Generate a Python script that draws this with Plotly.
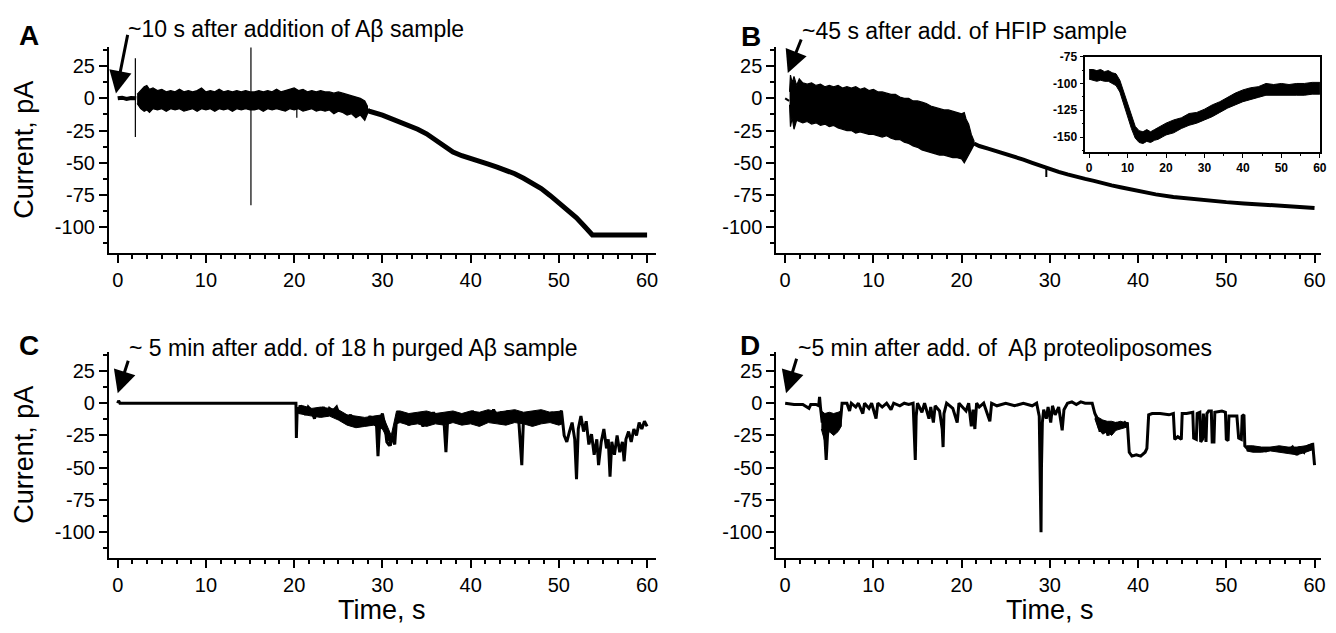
import plotly.graph_objects as go

# ---------------- data ----------------
# Panel A
a_flat_t = [0.0, 0.5, 1.0, 1.5, 2.1]
a_flat_i = [0.0, 0.5, -0.5, 0.3, 0.0]
a_band_t = [2.2, 2.6, 3.0, 3.3, 3.6,
            4.0, 4.5, 5.0, 5.5, 6.0, 6.5, 7.0, 7.5, 8.0, 8.5,
            9.0, 9.5, 10.0, 10.5, 11.0, 11.5, 12.0, 12.5, 13.0, 13.5,
            14.0, 14.5, 15.0, 15.5, 16.0, 16.5, 17.0, 17.5, 18.0, 18.5,
            19.0, 19.5, 20.0, 20.5, 21.0, 21.5, 22.0, 22.5, 23.0, 23.5,
            24.0, 24.5, 25.0, 25.5, 26.0, 26.5, 27.0, 27.5, 28.0, 28.3]
a_band_hi = [3, 6, 9, 10, 7,
             8, 6, 7, 5, 6, 5, 7, 5, 6, 5,
             6, 8, 5, 6, 5, 7, 5, 6, 5, 6,
             5, 6, 5, 5, 6, 5, 6, 5, 7, 5,
             6, 7, 8, 6, 7, 5, 6, 5, 6, 5,
             5, 4, 5, 4, 3, 2, 1, 0, -2, -6]
a_band_lo = [-4, -8, -10, -9, -11,
             -8, -9, -8, -10, -8, -9, -8, -10, -9, -8,
             -10, -8, -9, -8, -10, -8, -9, -8, -10, -8,
             -9, -8, -9, -9, -8, -10, -8, -9, -8, -9,
             -10, -8, -9, -8, -10, -9, -8, -10, -9, -10,
             -9, -12, -10, -11, -13, -12, -15, -13, -17, -12]
a_decay_t = [28.3, 28.5, 30, 31, 32, 33, 34, 35, 36, 37, 38, 39, 40, 41, 42,
             43, 44, 45, 46, 47, 48, 49, 50, 51, 52, 53, 53.8, 60]
a_decay_i = [-9, -10, -13, -15.5, -18, -21, -24, -27.5, -32, -36.5, -41.6, -44.5,
             -47, -49, -51, -53.3, -55.6, -58.5, -62, -65.8, -70, -75.3, -81,
             -86.8, -92.6, -100, -106, -106]
a_spike_t = [2.0, 15.1, 20.3]
a_spike_top = [31, 39.5, -1]
a_spike_bot = [-30, -83, -15]

# Panel B
b_pre_t = [0.0, 0.2, 0.45]
b_pre_i = [0, -1, -2]
b_band_t = [0.5, 0.6, 0.8, 1.0, 1.3, 1.6,
            2.0, 2.5, 3.0, 3.5, 4.0, 4.5, 5.0, 5.5, 6.0, 6.5,
            7.0, 7.5, 8.0, 8.5, 9.0, 9.5, 10.0, 10.5, 11.0, 11.5,
            12.0, 12.5, 13.0, 13.5, 14.0, 14.5, 15.0, 15.5, 16.0, 16.5,
            17.0, 17.5, 18.0, 18.5, 19.0, 19.5, 20.0,
            20.3, 20.5, 20.8, 21.1, 21.4]
b_band_hi = [5, 18, 12, 17, 10, 15,
             12, 11, 12, 10, 11, 9, 10, 9, 10, 8,
             9, 8, 9, 7, 8, 6, 7, 5, 5, 4,
             3, 3, 1, 0, 0, -2, -2, -3, -4, -6,
             -7, -8, -9, -9, -10, -11, -12,
             -11, -16, -20, -28, -33]
b_band_lo = [-5, -22, -15, -24, -17, -18,
             -19, -18, -20, -19, -21, -20, -22, -21, -23, -24,
             -25, -25, -27, -26, -27, -28, -28, -29, -30, -29,
             -31, -32, -32, -34, -35, -37, -38, -40, -41, -42,
             -43, -44, -44, -45, -46, -46, -47,
             -50, -48, -44, -40, -36]
b_decay_t = [21.4, 22, 23, 24, 25, 26, 27, 28, 29, 30, 31, 32, 33, 34, 35, 36,
             37, 38, 39, 40, 42, 44, 46, 48, 50, 52, 54, 56, 58, 60]
b_decay_i = [-35, -37, -39, -41, -43, -45, -47.5, -50, -52.5, -55, -57, -59, -61,
             -62.5, -64, -66, -67.5, -69, -70.5, -72, -74.5, -76.5, -78, -79.5,
             -80.5, -81.5, -82.5, -83.5, -84.3, -85]
b_spike_t = [29.6]
b_spike_top = [-53]
b_spike_bot = [-61]

# Inset of panel B
ins_t = [0, 1, 2, 3, 4, 5, 6, 7, 8, 9, 10, 11, 12, 13, 14, 15, 16, 17, 18, 19,
         20, 22, 24, 26, 28, 30, 32, 34, 36, 38, 40, 42, 44, 46, 48, 50, 52, 54,
         56, 58, 60]
ins_hi = [-87, -87, -88, -87, -89, -88, -90, -91, -97, -108, -120, -131, -140,
          -144, -145, -143, -145, -143, -141, -139, -137, -134, -132, -128, -127,
          -124, -120, -117, -113, -109, -106, -104, -103, -100, -101, -100, -101,
          -100, -100, -99, -99]
ins_lo = [-96, -97, -98, -97, -98, -98, -100, -102, -108, -119, -131, -142, -151,
          -155, -156, -154, -155, -153, -152, -150, -148, -146, -142, -139, -137,
          -134, -131, -127, -123, -120, -117, -115, -113, -111, -111, -111, -111,
          -111, -111, -110, -110]

# Panel C
c_t = [0, 0.1, 0.25, 20.2, 20.25, 20.35, 20.5, 20.7, 21, 21.3, 21.6, 22, 22.3,
       22.6, 23, 23.3, 23.7, 24, 24.4, 24.8, 25, 25.3, 25.7, 26, 26.4, 26.8,
       27.1, 27.5, 27.9, 28.2, 28.6, 29, 29.3, 29.5, 29.7, 30, 30.3, 30.5, 30.8,
       31.1, 31.4, 31.6, 31.9, 32.2, 32.6, 33, 33.4, 33.8, 34.2, 34.6, 35, 35.4,
       35.8, 36.2, 36.6, 37, 37.2, 37.4, 37.8, 38.2, 38.6, 39, 39.4, 39.8, 40.2,
       40.6, 41, 41.4, 41.8, 42.2, 42.6, 43, 43.4, 43.8, 44.2, 44.6, 45, 45.4,
       45.8, 46, 46.4, 46.8, 47.2, 47.6, 48, 48.4, 48.8, 49.2, 49.6, 50, 50.3,
       50.6, 50.9, 51.2, 51.5, 51.8, 52, 52.2, 52.5, 52.8, 53.1, 53.4, 53.7, 54,
       54.3, 54.5, 54.8, 55.1, 55.4, 55.6, 55.8, 56, 56.3, 56.6, 56.9, 57.2,
       57.4, 57.6, 57.9, 58.2, 58.5, 58.8, 59.1, 59.4, 59.7, 60]
c_i = [0, 2, 0, 0, -27, -3, -8, -2, -4, -9, -3, -6, -12,
       -5, -8, -3, -10, -4, -6, -3, -7, -12, -10, -14, -9, -16,
       -11, -18, -12, -17, -10, -15, -12, -41, -15, -8, -18, -30, -33,
       -26, -32, -12, -8, -14, -10, -17, -9, -15, -11, -18, -10, -14,
       -7, -13, -9, -16, -38, -12, -8, -14, -9, -16, -8, -13, -6,
       -12, -9, -15, -7, -12, -5, -11, -8, -14, -6, -10, -13, -8,
       -48, -10, -14, -7, -12, -9, -15, -8, -12, -7, -13, -9, -6,
       -25, -30, -22, -15, -28, -59, -20, -10, -22, -14, -32, -24, -40,
       -28, -48, -30, -20, -35, -28, -57, -30, -40, -25, -38, -30,
       -45, -28, -22, -30, -20, -25, -15, -20, -14, -18]
# dense noise envelope of the C trace
c_band_t = [20.5, 21, 22, 23, 24, 25, 26, 27, 28, 29, 30, 31, 31.6, 32, 33, 34,
            35, 36, 37, 38, 39, 40, 41, 42, 43, 44, 45, 46, 47, 48, 49, 50, 50.4]
c_band_hi = [-2, -2, -4, -3, -4, -5, -9, -10, -11, -10, -9, -25, -6, -6, -8, -7,
             -6, -8, -7, -6, -8, -6, -7, -5, -7, -6, -5, -7, -6, -5, -7, -6, -6]
c_band_lo = [-8, -9, -10, -11, -10, -13, -17, -19, -18, -17, -20, -33, -16, -15,
             -17, -16, -18, -16, -17, -15, -17, -16, -18, -15, -16, -17, -15, -16,
             -18, -16, -15, -17, -16]

# Panel D
d_t = [0, 1, 2, 2.7, 2.9, 3.5, 3.8, 3.9, 4.0, 4.2, 4.35, 4.5, 4.65, 4.8, 5.0,
       5.2, 5.4, 5.6, 5.8, 6.0, 6.2, 6.35, 6.45, 7, 7.3, 7.5, 8, 8.3, 8.8, 9,
       9.5, 9.8, 10.3, 10.5, 11, 11.5, 12, 12.3, 13, 13.5, 14, 14.5, 14.65,
       14.75, 14.85, 15, 15.5, 15.8, 16.3, 16.5, 16.8, 17, 17.5, 17.8, 17.9,
       18.0, 18.3, 19, 19.5, 19.7, 20.5, 20.8, 21.1, 21.3, 21.5, 21.7, 22, 22.5,
       23.2, 23.4, 24, 25, 26, 27, 28, 28.5, 28.8, 28.95, 29.0, 29.05, 29.15,
       29.3, 29.6, 29.8, 30.1, 30.3, 30.6, 31, 31.4, 31.6, 32, 32.5, 33, 33.5,
       34, 34.8, 35.1, 35.4, 35.7, 36, 36.3, 36.6, 36.9, 37.3, 37.6, 38, 38.5,
       38.8, 39.0, 39.3, 39.8, 40.3, 40.8, 41.0, 41.2, 41.6, 42.5, 43.5, 44,
       44.15, 44.5, 44.9, 45.0, 45.5, 46.2, 46.3, 46.6, 46.7, 47, 47.1, 47.3,
       47.4, 47.7, 47.8, 48.0, 48.3, 48.4, 48.6, 48.7, 49.5, 49.9, 50.0, 50.2,
       50.3, 51.2, 51.4, 51.7, 51.8, 52.0, 52.1, 52.5, 53.5, 54.5, 55, 56, 56.5,
       57, 57.5, 58, 58.3, 58.8, 59, 59.5, 59.8, 59.9, 60]
d_i = [0, -1, -1, -4, -1, -1, -2, 5, -3, -15, -8, -30, -44, -25, -12,
       -20, -9, -15, -22, -10, -18, -8, 0, 0, -6, 0, -3, 0, -8, 0,
       -4, 0, -12, 0, -3, 0, -5, 0, -2, 0, -1, 0, -20,
       -44, -10, 0, -7, 0, -12, -3, -15, -2, -6, -20, -34,
       -8, 0, -4, -15, 0, -6, 0, -18, -5, -20, 0, -3, 0,
       -14, 0, -2, 0, -2, 0, -2, 0, -10, -60, -100, -50, -15,
       -5, -12, -3, -15, -2, -9, -3, -21, -5, 0, 1, -1, 1,
       0, 0, -8, -12, -22, -14, -18, -25, -17, -21, -16, -18, -15,
       -17, -38, -41, -40, -41, -38, -35, -9, -8, -8, -9, -8,
       -28, -26, -28, -8, -8, -7, -27, -28, -8, -7, -30, -28,
       -8, -30, -8, -6, -6, -30, -30, -7, -6, -7, -28, -29,
       -10, -10, -27, -28, -10, -9, -33, -36, -35, -37, -35, -36, -35,
       -37, -34, -40, -35, -38, -34, -33, -32, -40, -48]
# dense noise envelopes of the D trace
d_band1_t = [4.1, 4.5, 5.0, 5.5, 6.0, 6.35]
d_band1_hi = [-6, -8, -7, -8, -7, -6]
d_band1_lo = [-20, -30, -22, -25, -22, -18]
d_band2_t = [35.1, 35.5, 36, 36.5, 37, 37.5, 38, 38.5, 38.9]
d_band2_hi = [-8, -11, -13, -14, -14, -15, -14, -15, -15]
d_band2_lo = [-12, -20, -24, -22, -25, -21, -20, -19, -18]
d_band3_t = [52.3, 53, 54, 55, 56, 57, 58, 59, 59.8]
d_band3_hi = [-33, -33, -34, -34, -33, -34, -34, -33, -31]
d_band3_lo = [-37, -38, -38, -37, -38, -39, -40, -38, -36]

# Ticks and texts
x_tick_vals = [0, 10, 20, 30, 40, 50, 60]
x_tick_text = ["0", "10", "20", "30", "40", "50", "60"]
y_tick_vals = [25, 0, -25, -50, -75, -100]
y_tick_text = ["25", "0", "-25", "-50", "-75", "-100"]
ins_y_vals = [-75, -100, -125, -150]
ins_y_text = ["-75", "-100", "-125", "-150"]
panel_letters = ["A", "B", "C", "D"]
panel_notes = ["~10 s after addition of A\u03b2 sample",
               "~45 s after add. of HFIP sample",
               "~ 5 min after add. of 18 h purged A\u03b2 sample",
               "~5 min after add. of  A\u03b2 proteoliposomes"]
x_title = "Time, s"
y_title = "Current, pA"

# ---------------- figure ----------------
PAGE_MARGIN = 8            # default body margin of the html page
W, H = 1336 - 2 * PAGE_MARGIN, 633 - 2 * PAGE_MARGIN
def px(x):
    return min(1.0, max(0.0, (x - PAGE_MARGIN) / W))
def py(y):
    return min(1.0, max(0.0, 1 - (y - PAGE_MARGIN) / H))

FONT = "Liberation Sans, Arial, sans-serif"
BLK = "black"

fig = go.Figure()

def line(x, y, xa, ya, w):
    fig.add_trace(go.Scatter(x=x, y=y, mode="lines", xaxis=xa, yaxis=ya,
                             line=dict(color=BLK, width=w), hoverinfo="skip"))

def band(t, hi, lo, xa, ya, w=1.2):
    xs = list(t) + list(t)[::-1]
    ys = list(hi) + list(lo)[::-1]
    fig.add_trace(go.Scatter(x=xs, y=ys, mode="lines", fill="toself",
                             fillcolor=BLK, xaxis=xa, yaxis=ya,
                             line=dict(color=BLK, width=w), hoverinfo="skip"))

def spikes(t, top, bot, xa, ya, w):
    xs, ys = [], []
    for tt, a, b in zip(t, top, bot):
        xs += [tt, tt, None]
        ys += [a, b, None]
    fig.add_trace(go.Scatter(x=xs, y=ys, mode="lines", xaxis=xa, yaxis=ya,
                             line=dict(color=BLK, width=w), hoverinfo="skip"))

# A
line(a_flat_t, a_flat_i, "x", "y", 4)
band(a_band_t, a_band_hi, a_band_lo, "x", "y")
line(a_decay_t, a_decay_i, "x", "y", 5)
spikes(a_spike_t, a_spike_top, a_spike_bot, "x", "y", 1.2)
# B
line(b_pre_t, b_pre_i, "x2", "y2", 2)
band(b_band_t, b_band_hi, b_band_lo, "x2", "y2")
line(b_decay_t, b_decay_i, "x2", "y2", 4)
spikes(b_spike_t, b_spike_top, b_spike_bot, "x2", "y2", 2)
# inset
band(ins_t, ins_hi, ins_lo, "x5", "y5", 1)
# C
band(c_band_t, c_band_hi, c_band_lo, "x3", "y3", 1)
line(c_t, c_i, "x3", "y3", 3)
# D
band(d_band1_t, d_band1_hi, d_band1_lo, "x4", "y4", 1)
band(d_band2_t, d_band2_hi, d_band2_lo, "x4", "y4", 1)
band(d_band3_t, d_band3_hi, d_band3_lo, "x4", "y4", 1)
line(d_t, d_i, "x4", "y4", 3)

# axis geometry (page pixels)
SCALE = 8.87                      # px per second on the main panels
A_ZERO, B_ZERO = 118.3, 789.3     # page x of t = 0
AX_L, AX_R = A_ZERO - SCALE, A_ZERO + 61 * SCALE
BX_L, BX_R = B_ZERO - SCALE, 1328.0   # right end limited by the page margin
TOP_T, TOP_B = 40.1, 248.8
BOT_T, BOT_B = 348.5, 557.2
A_RANGE = [-1, -1 + (AX_R - AX_L) / SCALE]
B_RANGE = [-1, -1 + (BX_R - BX_L) / SCALE]

tickfont = dict(family=FONT, size=20, color=BLK)
def xax(dom, anchor, rng):
    return dict(domain=[px(dom[0]), px(dom[1])], anchor=anchor, range=rng,
                tickmode="array", tickvals=x_tick_vals, ticktext=x_tick_text,
                ticklabeloverflow="allow",
                showline=True, linewidth=2, linecolor=BLK,
                ticks="outside", ticklen=8, tickwidth=2, tickcolor=BLK,
                minor=dict(ticks="outside", ticklen=4, tickwidth=1.5,
                           tick0=0, dtick=10 / 6, tickcolor=BLK),
                showgrid=False, zeroline=False, tickfont=tickfont)
def yax(dom, anchor):
    return dict(domain=[py(dom[1]), py(dom[0])], anchor=anchor, range=[-120, 40],
                tickmode="array", tickvals=y_tick_vals, ticktext=y_tick_text,
                showline=True, linewidth=2, linecolor=BLK,
                ticks="outside", ticklen=8, tickwidth=2, tickcolor=BLK,
                minor=dict(ticks="outside", ticklen=4, tickwidth=1.5,
                           tick0=0, dtick=12.5, tickcolor=BLK),
                showgrid=False, zeroline=False, tickfont=tickfont)

insfont = dict(family=FONT, size=12, color=BLK, weight="bold")
fig.update_layout(
    width=W, height=H, margin=dict(l=0, r=0, t=0, b=0),
    paper_bgcolor="white", plot_bgcolor="white", showlegend=False,
    xaxis=xax((AX_L, AX_R), "y", A_RANGE), yaxis=yax((TOP_T, TOP_B), "x"),
    xaxis2=xax((BX_L, BX_R), "y2", B_RANGE), yaxis2=yax((TOP_T, TOP_B), "x2"),
    xaxis3=xax((AX_L, AX_R), "y3", A_RANGE), yaxis3=yax((BOT_T, BOT_B), "x3"),
    xaxis4=xax((BX_L, BX_R), "y4", B_RANGE), yaxis4=yax((BOT_T, BOT_B), "x4"),
    xaxis5=dict(domain=[px(1091), px(1327)], anchor="y5", range=[-1, 60.05],
                tickmode="array", tickvals=x_tick_vals, ticktext=x_tick_text,
                ticklabeloverflow="allow",
                showline=True, mirror=True, linewidth=1.5,
                linecolor=BLK, ticks="outside", ticklen=4, tickwidth=1.2,
                tickcolor=BLK, minor=dict(ticks="outside", ticklen=2, tick0=0,
                                          dtick=5, tickcolor=BLK),
                showgrid=False, zeroline=False, tickfont=insfont),
    yaxis5=dict(domain=[py(146.7), py(50)], anchor="x5", range=[-164, -74.9],
                tickmode="array", tickvals=ins_y_vals, ticktext=ins_y_text,
                showline=True, mirror=True, linewidth=1.5,
                linecolor=BLK, ticks="outside", ticklen=4, tickwidth=1.2,
                tickcolor=BLK, minor=dict(ticks="outside", ticklen=2, tick0=-75,
                                          dtick=12.5, tickcolor=BLK),
                showgrid=False, zeroline=False, tickfont=insfont),
)

ann = []
# panel letters
for lab, (x, y) in zip(panel_letters, [(29, 29), (755, 30), (29, 342), (754, 342)]):
    ann.append(dict(x=px(x), y=py(y), xref="paper", yref="paper", text=lab,
                    showarrow=False, xanchor="center", yanchor="middle",
                    font=dict(family=FONT, size=28, color=BLK, weight="bold")))
# notes
for txt, (x, y) in zip(panel_notes, [(127, 22), (804, 24), (128, 345), (800, 345)]):
    ann.append(dict(x=px(x), y=py(y), xref="paper", yref="paper", text=txt,
                    showarrow=False, xanchor="left", yanchor="middle",
                    font=dict(family=FONT, size=23, color=BLK)))
# arrows
for xa, ya, tx, ty, dx, dy in [("x", "y", -0.2, 3.8, 12, -60),
                               ("x2", "y2", 0.3, 19.6, 14, -35),
                               ("x3", "y3", 0.0, 7.7, 11, -34),
                               ("x4", "y4", 0.1, 7.7, 11, -36)]:
    ann.append(dict(x=tx, y=ty, xref=xa, yref=ya, text="", showarrow=True,
                    ax=dx, ay=dy, arrowhead=2, arrowsize=1.5, arrowwidth=3,
                    arrowcolor=BLK))
# axis titles
for y in [(TOP_T + TOP_B) / 2, (BOT_T + BOT_B) / 2]:
    ann.append(dict(x=px(24), y=py(y), xref="paper", yref="paper", text=y_title,
                    textangle=-90, showarrow=False, xanchor="center",
                    yanchor="middle", font=dict(family=FONT, size=27, color=BLK)))
for x in [A_ZERO + SCALE * 30, B_ZERO + SCALE * 30]:
    ann.append(dict(x=px(x), y=py(610), xref="paper", yref="paper", text=x_title,
                    showarrow=False, xanchor="center", yanchor="middle",
                    font=dict(family=FONT, size=27, color=BLK)))
fig.update_layout(annotations=ann)

fig.write_html("out.html")
